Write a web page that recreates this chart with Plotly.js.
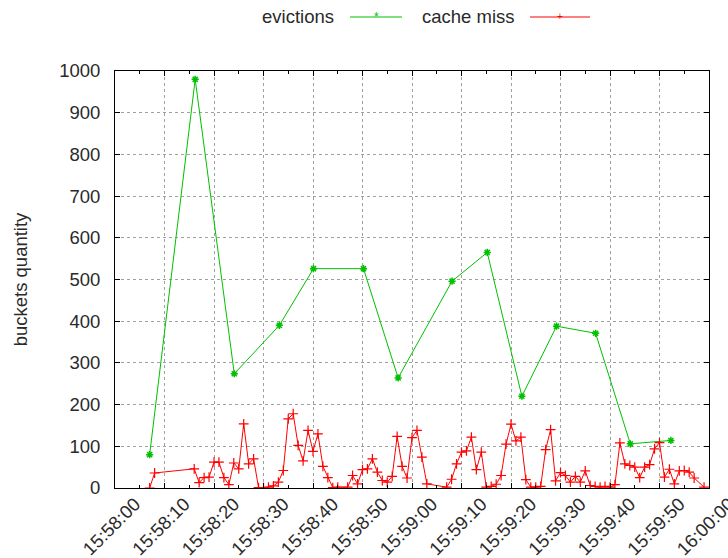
<!DOCTYPE html>
<html>
<head>
<meta charset="utf-8">
<script src="https://cdn.plot.ly/plotly-3.0.1.min.js"></script>
<style>html,body{margin:0;padding:0;background:#fff;}#chart{width:728px;height:558px;}</style>
</head>
<body>
<div id="chart"></div>
<script>
const DAY = "2020-01-01 ";
const evictTimes = ["15:58:07","15:58:16.2","15:58:24.1","15:58:33.2","15:58:40.1","15:58:50.2","15:58:57.2","15:59:08.1","15:59:15.2","15:59:22.2","15:59:29.2","15:59:37.1","15:59:44.1","15:59:52.3"];
const evictValues = [80,980,274,390,526,526,264,496,565,220,388,371,106,114];

const missTimes = ["15:58:07","15:58:08",
 "15:58:16","15:58:17","15:58:18","15:58:19","15:58:20","15:58:21","15:58:22","15:58:23","15:58:24","15:58:25",
 "15:58:26","15:58:27","15:58:28","15:58:29","15:58:30","15:58:31","15:58:32","15:58:33","15:58:34","15:58:35",
 "15:58:36","15:58:37","15:58:38","15:58:39","15:58:40","15:58:41","15:58:42","15:58:43","15:58:44","15:58:45",
 "15:58:47","15:58:48","15:58:49","15:58:50","15:58:51","15:58:52","15:58:53","15:58:54","15:58:55","15:58:56",
 "15:58:57","15:58:58","15:58:59","15:59:00","15:59:01","15:59:02","15:59:03",
 "15:59:07","15:59:08","15:59:09","15:59:10","15:59:11","15:59:12","15:59:13","15:59:14","15:59:15","15:59:16",
 "15:59:17","15:59:18","15:59:19","15:59:20","15:59:21","15:59:22","15:59:23","15:59:24","15:59:25","15:59:26",
 "15:59:27","15:59:28","15:59:29","15:59:30","15:59:31","15:59:32","15:59:33","15:59:34","15:59:35","15:59:36",
 "15:59:37","15:59:38","15:59:39","15:59:40","15:59:41","15:59:42","15:59:43","15:59:44","15:59:45","15:59:46",
 "15:59:47","15:59:48","15:59:49","15:59:50","15:59:51","15:59:52","15:59:53","15:59:54","15:59:55","15:59:56",
 "15:59:57","15:59:59"];
const missValues = [0,36,
 46,13,25,26,62,62,25,8,60,46,
 154,58,70,1,1,2,5,14,42,166,
 178,102,65,138,88,130,52,25,1,2,
 2,30,10,44,46,70,38,18,14,28,
 124,52,24,121,138,74,10,
 2,21,58,86,89,122,44,86,2,4,
 9,30,105,153,113,122,20,2,2,4,
 92,140,17,37,30,14,28,14,41,6,
 4,2,4,2,8,108,58,54,50,25,
 50,56,94,109,26,45,10,41,42,38,
 24,2];

const seriesNames = ["evictions","cache miss"];
const seriesColors = ["#00c000","#ff0000"];
const yTitle = "buckets quantity";

const FONT = "Liberation Sans, Arial, sans-serif";
const FS = 18.5;
const TXT = "#2a2a2a";

const traces = [
 {x: evictTimes.map(t=>DAY+t), y: evictValues, name: seriesNames[0], mode:"lines+markers",
  line:{color:seriesColors[0], width:1}, marker:{symbol:"asterisk-open", size:6, color:seriesColors[0], line:{color:seriesColors[0], width:1.5}}},
 {x: missTimes.map(t=>DAY+t), y: missValues, name: seriesNames[1], mode:"lines+markers",
  line:{color:seriesColors[1], width:1}, marker:{symbol:"cross-thin-open", size:7, color:seriesColors[1], line:{color:seriesColors[1], width:1.2}}}
];

const axisCommon = {
  showline:true, linecolor:"#000", linewidth:1, mirror:"allticks",
  ticks:"inside", ticklen:5, tickcolor:"#000", tickwidth:1,
  showgrid:true, gridcolor:"#a0a0a0", griddash:"dot", gridwidth:1,
  zeroline:false, tickfont:{family:FONT, size:FS, color:TXT}
};

const layout = {
  width:728, height:558,
  margin:{l:115, r:19, t:71, b:70},
  paper_bgcolor:"#fff", plot_bgcolor:"#fff",
  showlegend:false,
  xaxis: Object.assign({}, axisCommon, {
    type:"date", range:[DAY+"15:58:00", DAY+"16:00:00"],
    tick0: DAY+"15:58:00", dtick:10000, tickformat:"%H:%M:%S", tickangle:-45,
    ticklabelshift:20, ticklabelstandoff:-3, ticklabeloverflow:"allow",
    minor:{dtick:5000, ticks:"inside", ticklen:3, tickcolor:"#000", showgrid:false}
  }),
  yaxis: Object.assign({}, axisCommon, {
    range:[0,1000], tick0:0, dtick:100, ticklabelstandoff:10,
    title:{text:yTitle, font:{family:FONT, size:FS, color:TXT}, standoff:26}
  }),
  annotations:[
    {xref:"paper", yref:"paper", x:(336-115)/594, y:(488-17)/417, xanchor:"right", yanchor:"middle", text:seriesNames[0], showarrow:false, font:{family:FONT, size:FS, color:TXT}},
    {xref:"paper", yref:"paper", x:(517-115)/594, y:(488-17)/417, xanchor:"right", yanchor:"middle", text:seriesNames[1], showarrow:false, font:{family:FONT, size:FS, color:TXT}},
    {xref:"paper", yref:"paper", x:(376-115)/594, y:(488-17)/417, xanchor:"center", yanchor:"middle", text:"*", showarrow:false, font:{family:FONT, size:12, color:seriesColors[0]}},
    {xref:"paper", yref:"paper", x:(560-115)/594, y:(488-17)/417, xanchor:"center", yanchor:"middle", text:"+", showarrow:false, font:{family:FONT, size:10, color:seriesColors[1]}}
  ],
  shapes:[
    {type:"line", xref:"paper", yref:"paper", x0:(350-115)/594, x1:(402-115)/594, y0:(488-17)/417, y1:(488-17)/417, line:{color:seriesColors[0], width:1}},
    {type:"line", xref:"paper", yref:"paper", x0:(530-115)/594, x1:(590-115)/594, y0:(488-17)/417, y1:(488-17)/417, line:{color:seriesColors[1], width:1}}
  ]
};

Plotly.newPlot("chart", traces, layout, {displayModeBar:false, staticPlot:true});
</script>
</body>
</html>
